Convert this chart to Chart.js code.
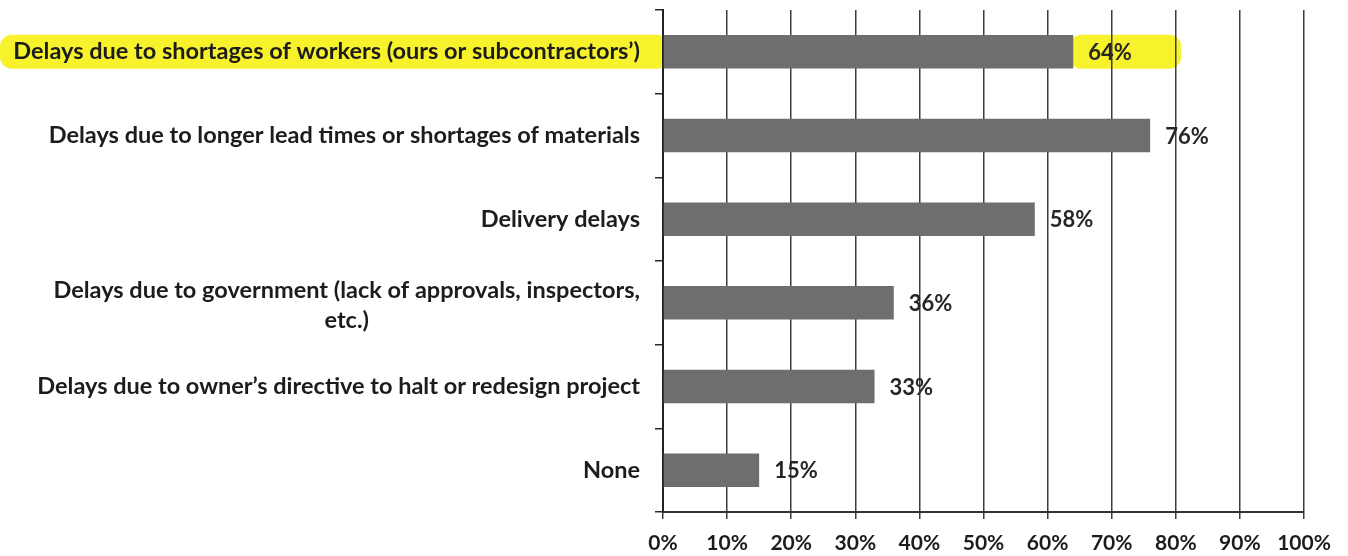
<!DOCTYPE html>
<html>
<head>
<meta charset="utf-8">
<script src="https://cdn.jsdelivr.net/npm/chart.js@4"></script>
<style>
  html, body { margin: 0; padding: 0; background: #fff; }
  #wrap { width: 1348px; height: 556px; }
</style>
</head>
<body>
<div id="wrap"><canvas id="delaysChart"></canvas></div>
<script>
// categories (wrapped the way the original shows them)
const categories = [
  ['Delays due to shortages of workers (ours or subcontractors’)'],
  ['Delays due to longer lead times or shortages of materials'],
  ['Delivery delays'],
  ['Delays due to government (lack of approvals, inspectors,', 'etc.)'],
  ['Delays due to owner’s directive to halt or redesign project'],
  ['None']
];
const values = [64, 76, 58, 36, 33, 15];
const valueLabels = ['64%', '76%', '58%', '36%', '33%', '15%'];
const xTickLabels = ['0%', '10%', '20%', '30%', '40%', '50%', '60%', '70%', '80%', '90%', '100%'];
const highlighted = 0; // row marked with yellow highlighter

const FONT = 'Lato, "Open Sans", sans-serif';
const TEXT = '#1c1c1c';

// yellow highlighter behind the first row
const highlighter = {
  id: 'highlighter',
  beforeDraw(chart) {
    const { ctx, chartArea, scales: { x, y } } = chart;
    const cy = y.getPixelForValue(highlighted);
    const end = x.getPixelForValue(values[highlighted]);
    ctx.save();
    ctx.fillStyle = '#f7f22c';
    ctx.beginPath();
    ctx.roundRect(0, cy - 17, chartArea.left + 6, 34, 12);
    ctx.roundRect(end - 4, cy - 17, 112, 34, 12);
    ctx.fill();
    ctx.restore();
  }
};

// category names, right aligned, wrapped lines centred on each other
const categoryLabels = {
  id: 'categoryLabels',
  afterDraw(chart) {
    const { ctx, chartArea, scales: { y } } = chart;
    const right = chartArea.left - 23;
    const lh = 30;
    ctx.save();
    ctx.font = 'bold 23.5px ' + FONT;
    ctx.fillStyle = TEXT;
    ctx.textAlign = 'center';
    ctx.textBaseline = 'middle';
    categories.forEach((lines, i) => {
      const w = Math.max(...lines.map((l) => ctx.measureText(l).width));
      const cx = right - w / 2;
      const n = lines.length;
      const top = y.getPixelForValue(i) - ((n - 1) * lh) / 2 + (n - 1) * 3;
      lines.forEach((l, k) => ctx.fillText(l, cx, top + k * lh));
    });
    ctx.restore();
  }
};

// value labels after each bar
const valueTags = {
  id: 'valueTags',
  afterDatasetsDraw(chart) {
    const { ctx } = chart;
    const meta = chart.getDatasetMeta(0);
    ctx.save();
    ctx.font = 'bold 22px ' + FONT;
    ctx.fillStyle = '#262626';
    ctx.textAlign = 'left';
    ctx.textBaseline = 'middle';
    meta.data.forEach((bar, i) => {
      ctx.fillText(valueLabels[i], bar.x + 15, bar.y + 1);
    });
    ctx.restore();
  }
};

new Chart(document.getElementById('delaysChart'), {
  type: 'bar',
  data: {
    labels: categories.map((c) => c.join(' ')),
    datasets: [
      {
        data: values,
        backgroundColor: '#6e6e6e',
        borderWidth: 0,
        barPercentage: 0.4,
        categoryPercentage: 1,
      },
    ],
  },
  options: {
    indexAxis: 'y',
    responsive: true,
    maintainAspectRatio: false,
    animation: false,
    layout: {
      padding: { left: 655, top: 10, right: 44, bottom: 0 },
    },
    plugins: {
      legend: { display: false },
      tooltip: { enabled: false },
    },
    scales: {
      x: {
        min: 0,
        max: 100,
        afterFit: (scale) => {
          scale.height = 44;
        },
        ticks: {
          stepSize: 10,
          autoSkip: false,
          maxRotation: 0,
          padding: 12,
          color: TEXT,
          font: { family: FONT, size: 21, weight: 'bold' },
          callback: (v, i) => xTickLabels[i],
        },
        grid: { color: '#3d3d3d', lineWidth: 1.5, tickLength: 7 },
        border: { color: '#333', width: 2 },
      },
      y: {
        ticks: { display: false },
        grid: { drawOnChartArea: false, tickLength: 8, color: '#2a2a2a', lineWidth: 1.5 },
        border: { color: '#222', width: 2 },
      },
    },
  },
  plugins: [highlighter, categoryLabels, valueTags],
});
</script>
</body>
</html>
